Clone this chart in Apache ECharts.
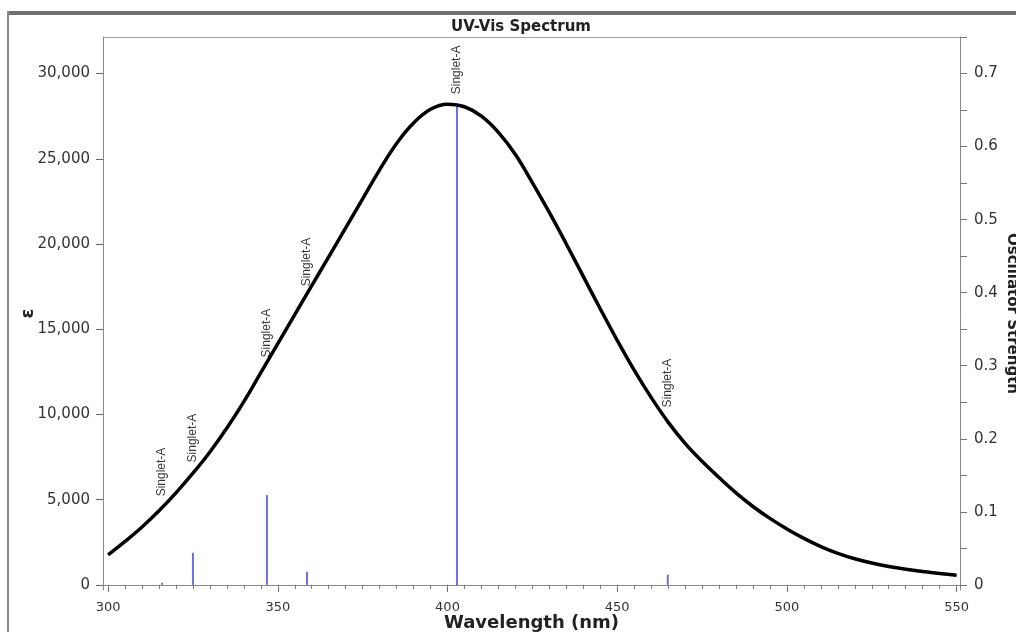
<!DOCTYPE html>
<html>
<head>
<meta charset="utf-8">
<script src="https://cdn.jsdelivr.net/npm/echarts@6/dist/echarts.min.js"></script>
<style>html,body{margin:0;padding:0;background:#fff;overflow:hidden;}#c{width:1016px;height:632px;}</style>
</head>
<body>
<div id="c"></div>
<script>
// Broadened spectrum (wavelength nm -> epsilon)
var wavelengths = [300,305,310,315,320,325,330,335,340,345,350,355,360,365,370,375,380,385,390,395,400,405,410,415,420,425,430,435,440,445,450,455,460,465,470,475,480,485,490,495,500,505,510,515,520,525,530,535,540,545,550];
var epsilon = [1760,2550,3400,4350,5400,6550,7800,9200,10750,12450,14150,15850,17550,19250,20950,22650,24350,25900,27100,27900,28200,28050,27500,26550,25250,23600,21850,20000,18100,16200,14350,12600,11000,9550,8300,7250,6300,5400,4600,3900,3280,2730,2250,1850,1530,1280,1080,920,790,670,570];
// Excitations (stick spectrum)
var stickWavelengths = [315.9, 325.0, 346.8, 358.6, 402.8, 464.9];
var oscillatorStrength = [0.003, 0.044, 0.123, 0.018, 0.659, 0.014];
var stickLabels = ["Singlet-A","Singlet-A","Singlet-A","Singlet-A","Singlet-A","Singlet-A"];
var labelEpsilon = [4930, 6920, 13080, 17250, 28520, 10150];
// Tick labels
var xTicks = [300,350,400,450,500,550];
var xMinorTicks = [300,305,310,315,320,325,330,335,340,345,350,355,360,365,370,375,380,385,390,395,400,405,410,415,420,425,430,435,440,445,450,455,460,465,470,475,480,485,490,495,500,505,510,515,520,525,530,535,540,545,550];
var leftTicks = [0,5000,10000,15000,20000,25000,30000];
var rightTicks = [0,0.1,0.2,0.3,0.4,0.5,0.6,0.7];
var rightMinorTicks = [0,0.05,0.1,0.15,0.2,0.25,0.3,0.35,0.4,0.45,0.5,0.55,0.6,0.65,0.7,0.75];

var curveData = wavelengths.map(function(w,i){return [w, epsilon[i]];});
var stickData = stickWavelengths.map(function(w,i){return [w, oscillatorStrength[i]];});
var labelData = stickWavelengths.map(function(w,i){return {value:[w, labelEpsilon[i]], name: stickLabels[i]};});

var axisGray = '#8a8a8a';
var chart = echarts.init(document.getElementById('c'), null, {renderer:'canvas'});
chart.setOption({
  animation: false,
  backgroundColor: '#fff',
  title: {
    text: 'UV-Vis Spectrum', left: 446, top: 15,
    textStyle: {fontFamily: 'DejaVu Sans', fontWeight: 'bold', fontSize: 15, color: '#222'}
  },
  graphic: [
    {type:'rect', shape:{x:8, y:11, width:1010, height:4}, style:{fill:'#707070'}, silent:true},
    {type:'rect', shape:{x:7, y:11, width:2, height:625}, style:{fill:'#8a8a8a'}, silent:true},
    {type:'line', shape:{x1:103, y1:37.5, x2:960, y2:37.5}, style:{stroke:'#a0a0a0', lineWidth:1}, silent:true}
  ],
  grid: {left: 103, right: 56, top: 37, bottom: 42, containLabel: false, outerBoundsMode: 'none'},
  xAxis: [{
    type: 'value', min: 298.5, max: 551,
    name: 'Wavelength (nm)', nameLocation: 'middle', nameGap: 24, nameMoveOverlap: false,
    nameTextStyle: {fontFamily: 'DejaVu Sans', fontWeight: 'bold', fontSize: 18, color: '#222', verticalAlign: 'top'},
    axisLine: {show: true, lineStyle: {color: axisGray, width: 1}},
    axisTick: {show: true, length: 7, customValues: xTicks, lineStyle: {color: '#666'}},
    axisLabel: {customValues: xTicks, fontFamily: 'DejaVu Sans', fontSize: 13, color: '#333', margin: 11},
    splitLine: {show: false}
  },{
    type: 'value', min: 298.5, max: 551, position: 'bottom',
    axisLine: {show: false},
    axisTick: {show: true, length: 4, customValues: xMinorTicks, lineStyle: {color: '#777'}},
    axisLabel: {show: false},
    splitLine: {show: false}
  }],
  yAxis: [{
    type: 'value', min: -300, max: 32142.857,
    name: 'ε', nameLocation: 'middle', nameGap: 66, nameRotate: 90, nameMoveOverlap: false,
    nameTextStyle: {fontFamily: 'DejaVu Sans', fontWeight: 'bold', fontSize: 18, color: '#222'},
    axisLine: {show: true, lineStyle: {color: axisGray}},
    axisTick: {show: true, length: 7, customValues: leftTicks, lineStyle: {color: '#666'}},
    axisLabel: {customValues: leftTicks, fontFamily: 'DejaVu Sans', fontSize: 15, color: '#333', margin: 13,
      formatter: function(v){ return v.toString().replace(/\B(?=(\d{3})+(?!\d))/g, ','); }},
    splitLine: {show: false}
  },{
    type: 'value', min: -0.007, max: 0.75, position: 'right',
    name: 'Oscillator Strength', nameLocation: 'middle', nameGap: 44, nameRotate: -90, nameMoveOverlap: false,
    nameTextStyle: {fontFamily: 'DejaVu Sans', fontWeight: 'bold', fontSize: 15, color: '#222'},
    axisLine: {show: true, lineStyle: {color: axisGray}},
    axisTick: {show: true, length: 7, customValues: rightMinorTicks, lineStyle: {color: '#777'}},
    axisLabel: {customValues: rightTicks, fontFamily: 'DejaVu Sans', fontSize: 15, color: '#333', margin: 14,
      formatter: function(v){ return String(Math.round(v*10)/10); }},
    splitLine: {show: false}
  }],
  series: [{
    type: 'bar', xAxisIndex: 0, yAxisIndex: 1, data: stickData, barWidth: 2,
    itemStyle: {color: '#7070e4'}, silent: true, z: 2
  },{
    type: 'line', xAxisIndex: 0, yAxisIndex: 0, data: curveData, smooth: 0.4,
    showSymbol: false, lineStyle: {color: '#000', width: 3.5}, silent: true, z: 3
  },{
    type: 'scatter', xAxisIndex: 0, yAxisIndex: 0, data: labelData, symbolSize: 1,
    itemStyle: {color: 'rgba(0,0,0,0)'}, silent: true, z: 4,
    label: {show: true, position: 'top', distance: 4, rotate: 90, align: 'left', verticalAlign: 'middle',
      formatter: function(p){ return p.name; },
      fontFamily: 'Liberation Sans', fontSize: 12, color: '#000'}
  }]
});
</script>
</body>
</html>
